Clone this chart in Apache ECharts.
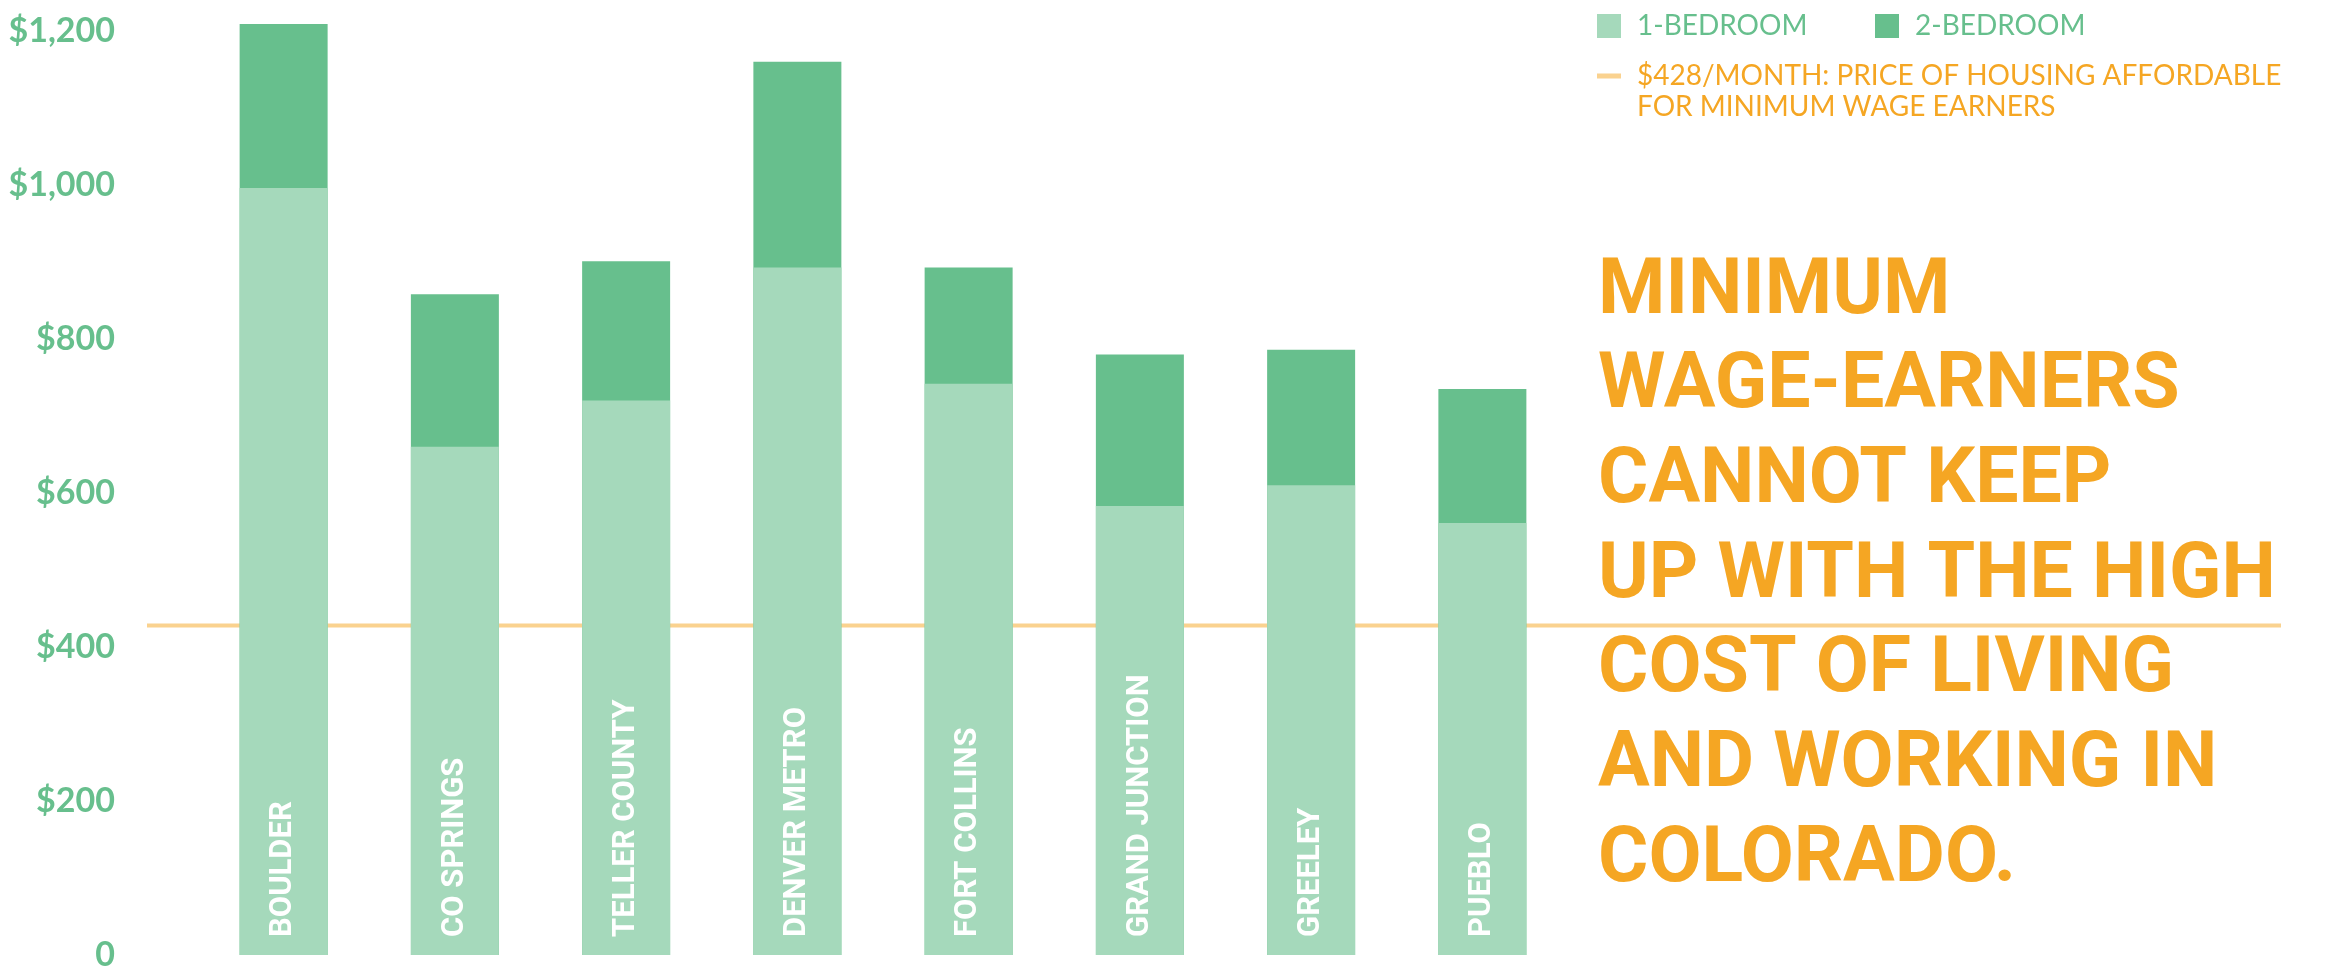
<!DOCTYPE html>
<html>
<head>
<meta charset="utf-8">
<script src="https://cdn.jsdelivr.net/npm/echarts@6/dist/echarts.min.js"></script>
<style>
  html, body { margin: 0; padding: 0; background: #fff; }
  #chart { width: 2343px; height: 973px; }
</style>
</head>
<body>
<div id="chart"></div>
<script>
// monthly rent by area
var areas = ["BOULDER", "CO SPRINGS", "TELLER COUNTY", "DENVER METRO", "FORT COLLINS", "GRAND JUNCTION", "GREELEY", "PUEBLO"];
var oneBedroom = [996, 660, 720, 893, 742, 583, 610, 561];
var twoBedroom = [1209, 858, 901, 1160, 893, 780, 786, 735];
var affordable = 428;
var yTicks = [0, 200, 400, 600, 800, 1000, 1200];

var green = "#67bf8d";
var lightGreen = "#a5d9bb";
var orange = "#f5a623";
var lightOrange = "#fad28f";

var lineName = "$428/MONTH: PRICE OF HOUSING AFFORDABLE\nFOR MINIMUM WAGE EARNERS";

function init_rent_chart(container) {
  var myChart = echarts.init(document.getElementById(container));
  var option = {
    animation: false,
    title: {
      text: "MINIMUM\nWAGE-EARNERS\nCANNOT KEEP\nUP WITH THE HIGH\nCOST OF LIVING\nAND WORKING IN\nCOLORADO.",
      left: 1598,
      top: 246,
      padding: 0,
      textStyle: {
        color: orange,
        fontFamily: "Roboto",
        fontWeight: "bold",
        fontSize: 77,
        lineHeight: 94.7,
      },
    },
    legend: [
      {
        data: ["1-BEDROOM"],
        left: 1597, top: 12, padding: 0,
        icon: "rect", itemWidth: 24, itemHeight: 24,
        selectedMode: false,
        textStyle: { color: green, fontFamily: "Lato", fontSize: 28, padding: [0, 0, 0, 11] },
      },
      {
        data: ["2-BEDROOM"],
        left: 1875, top: 12, padding: 0,
        icon: "rect", itemWidth: 24, itemHeight: 24,
        selectedMode: false,
        textStyle: { color: green, fontFamily: "Lato", fontSize: 28, padding: [0, 0, 0, 11] },
      },
      {
        // icon box as tall as the two text lines, dash drawn level with the first line
        data: [lineName],
        left: 1597, top: 60.5, padding: 0,
        icon: "path://M0,0h0.01v0.01h-0.01z M0,13h24v5h-24z M0,61.99h0.01v0.01h-0.01z",
        itemWidth: 24, itemHeight: 62,
        itemStyle: { borderWidth: 0 },
        selectedMode: false,
        textStyle: { color: orange, fontFamily: "Lato", fontSize: 28, lineHeight: 31, padding: [0, 0, 0, 11] },
      },
    ],
    grid: [
      // bars
      { left: 198, right: 775, top: 31, bottom: 18 },
      // the affordability line runs wider than the bars
      { left: 147, right: 62, top: 31, bottom: 18 },
    ],
    xAxis: [
      {
        type: "category",
        gridIndex: 0,
        data: areas,
        z: 10,
        axisLine: { show: false },
        axisTick: { show: false },
        axisLabel: {
          inside: true,
          rotate: 90,
          margin: 18,
          color: "#fff",
          fontFamily: "Roboto",
          fontWeight: "bold",
          fontSize: 31,
        },
      },
      { type: "value", gridIndex: 1, min: 0, max: 1, show: false },
    ],
    yAxis: [
      {
        type: "value",
        gridIndex: 0,
        min: yTicks[0],
        max: yTicks[yTicks.length - 1],
        interval: 200,
        axisLine: { show: false },
        axisTick: { show: false },
        splitLine: { show: false },
        axisLabel: {
          margin: 83,
          color: green,
          fontFamily: "Lato",
          fontWeight: "bold",
          fontSize: 34,
          formatter: function (v) {
            if (v === 0) return "0";
            return "$" + v.toLocaleString("en-US");
          },
        },
      },
      { type: "value", gridIndex: 1, min: yTicks[0], max: yTicks[yTicks.length - 1], show: false },
    ],
    series: [
      {
        name: lineName,
        type: "line",
        xAxisIndex: 1,
        yAxisIndex: 1,
        data: [[0, affordable], [1, affordable]],
        symbol: "none",
        silent: true,
        z: 1,
        color: lightOrange,
        itemStyle: { color: lightOrange },
        lineStyle: { color: lightOrange, width: 4 },
      },
      {
        name: "2-BEDROOM",
        type: "bar",
        data: twoBedroom,
        barWidth: 88,
        barGap: "-100%",
        clip: false,
        z: 2,
        itemStyle: { color: green },
      },
      {
        name: "1-BEDROOM",
        type: "bar",
        data: oneBedroom,
        barWidth: 88,
        barGap: "-100%",
        clip: false,
        z: 2,
        itemStyle: { color: lightGreen },
      },
    ],
  };
  myChart.setOption(option);
  window.addEventListener("resize", function () {
    myChart.resize();
  });
}

init_rent_chart("chart");
</script>
</body>
</html>
